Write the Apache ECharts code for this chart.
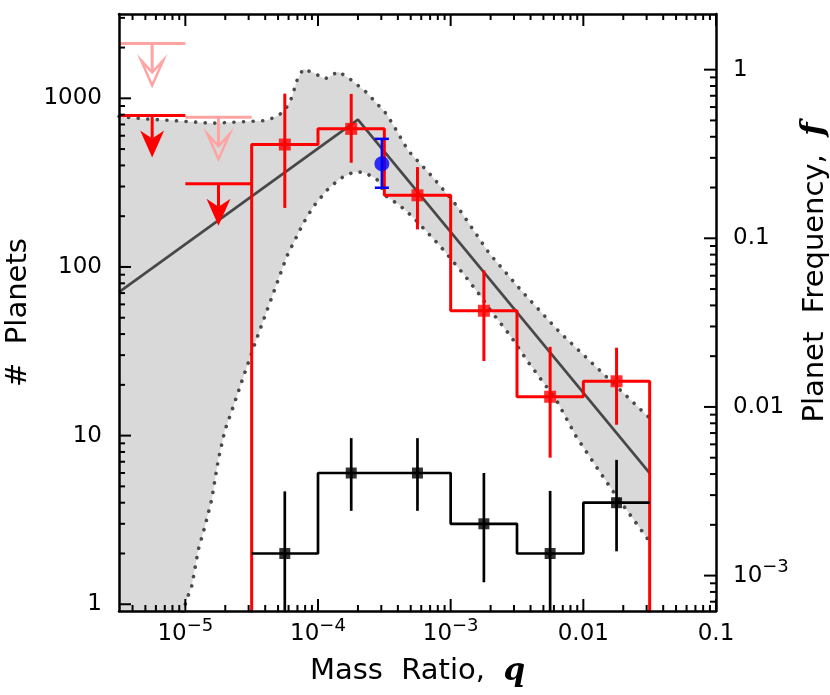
<!DOCTYPE html>
<html>
<head>
<meta charset="utf-8">
<script src="https://cdn.jsdelivr.net/npm/echarts@6/dist/echarts.min.js"></script>
<style>
  html, body { margin: 0; padding: 0; background: #fff; }
  #main { width: 830px; height: 695px; }
</style>
</head>
<body>
<div id="main"></div>
<script>
// half-decade bins in mass ratio q
var binEdges = [3.162e-5, 1e-4, 3.162e-4, 1e-3, 3.162e-3, 1e-2, 3.162e-2];
var binCenters = [5.62e-5, 1.78e-4, 5.62e-4, 1.78e-3, 5.62e-3, 1.78e-2];

// red: planets corrected for detection efficiency
var redCounts = [532, 659, 266, 55, 17, 21];
var redErrLo = [224, 415, 167, 27.7, 7.4, 11.6];
var redErrHi = [1066, 1062, 391, 95.5, 33.6, 33.2];

// black: observed planets
var blackCounts = [2, 6, 6, 3, 2, 4];
var blackErrLo = [0.5, 3.58, 3.58, 1.35, 0.5, 2.06];
var blackErrHi = [4.67, 9.66, 9.66, 6.0, 4.7, 7.18];

// upper limits in the two lowest bins
var limitBinLo = [3.162e-6, 1e-5];
var limitBinHi = [1e-5, 3.162e-5];
var redLimits = [791, 311];
var pinkLimits = [2115, 773];

// blue point
var blueQ = [3.03e-4];
var blueN = [409];
var blueLo = [295];
var blueHi = [575];

// broken power-law model
var modelQ = [3.162e-6, 2.0e-4, 3.162e-2];
var modelN = [71, 748, 6.0];

// shaded 1-sigma band
var upperQ = [3.162e-6, 4.98e-6, 8.08e-6, 1.59e-5, 3.18e-5, 4.12e-5, 4.99e-5, 5.63e-5, 6.35e-5, 6.93e-5,
  7.73e-5, 9.46e-5, 1.125e-4, 1.26e-4, 1.42e-4, 1.74e-4, 2.32e-4, 3.28e-4, 3.91e-4, 4.77e-4,
  7.33e-4, 1.13e-3, 1.96e-3, 3.48e-3, 6.6e-3, 1.32e-2, 3.162e-2];
var upperN = [780, 755, 738, 711, 731, 738, 790, 846, 1014, 1273,
  1493, 1406, 1303, 1362, 1444, 1303, 1085, 809, 644, 491,
  341, 227, 120, 71.1, 41.2, 24.5, 12.7];
var lowerQ = [3.162e-6, 9.4e-6, 1.025e-5, 1.117e-5, 1.253e-5, 1.406e-5, 1.58e-5, 1.77e-5, 1.99e-5, 2.30e-5,
  2.66e-5, 3.35e-5, 4.22e-5, 5.80e-5, 7.73e-5, 9.19e-5, 1.16e-4, 1.46e-4, 1.84e-4, 2.19e-4,
  2.76e-4, 3.28e-4, 4.13e-4, 5.18e-4, 8.26e-4, 9.55e-4, 1.27e-3, 1.70e-3, 2.08e-3, 2.86e-3,
  3.82e-3, 6.25e-3, 8.84e-3, 1.25e-2, 1.71e-2, 2.50e-2, 3.162e-2];
var lowerN = [0.5, 0.85, 1.07, 1.28, 2.11, 2.90, 4.17, 7.18, 10.8, 14.9,
  20.9, 35.2, 58.0, 115, 181, 227, 284, 334, 365, 365,
  334, 262, 232, 198, 134, 117, 89.3, 66.4, 52.9, 38.5,
  27.4, 16.3, 9.86, 6.55, 4.56, 3.03, 2.35];

// tick labels
var xTickValues = [1e-5, 1e-4, 1e-3, 0.01, 0.1];
var xTickLabels = ['10^−5', '10^−4', '10^−3', '0.01', '0.1'];
var yTickValues = [1, 10, 100, 1000];
var yTickLabels = ['1', '10', '100', '1000'];
var fTickValues = [1e-3, 0.01, 0.1, 1];
var fTickLabels = ['10^−3', '0.01', '0.1', '1'];

// axes work in log10 space
var X_MIN = -5.5, X_MAX = -1;
var Y_MIN = -0.04, Y_MAX = 3.5;
var LOG_C = -3.17;   // log10(f / N)
var FONT = 'DejaVu Sans';
var RED = '#ff0000', PINK = '#ffa3a3';

var lg = Math.log10;
function pairs(xs, ys) {
  return xs.map(function (x, i) { return [lg(x), lg(ys[i])]; });
}

function richLabel(s) {
  var p = s.split('^');
  return p.length > 1 ? '{b|' + p[0] + '}{s|' + p[1] + '}' : '{b|' + s + '}';
}
function labelFor(values, labels) {
  return function (v) {
    for (var i = 0; i < values.length; i++) {
      if (Math.abs(lg(values[i]) - v) < 1e-6) return richLabel(labels[i]);
    }
    return '';
  };
}
var labelRich = {
  b: { fontSize: 23, fontFamily: FONT, color: '#000', lineHeight: 34 },
  s: { fontSize: 18, fontFamily: FONT, color: '#000', lineHeight: 18, padding: [0, 0, 16, 0] }
};

// minor/major tick positions, k * 10^n
function logTicks(dLo, dHi, lo, hi) {
  var out = [];
  for (var n = dLo; n <= dHi; n++) {
    for (var k = 1; k <= 9; k++) {
      var v = lg(k) + n;
      if (v >= lo - 1e-9 && v <= hi + 1e-9) out.push([v, k === 1 ? 12 : 6]);
    }
  }
  return out;
}
var xTicks = logTicks(-6, -1, X_MIN, X_MAX);
var yTicks = logTicks(0, 3, Y_MIN, Y_MAX);
var fTicks = logTicks(-4, 0, Y_MIN + LOG_C, 0);

// histogram outlines
var redStep = [[lg(binEdges[0]), lg(0.5)]];
var blackStep = [];
for (var i = 0; i < redCounts.length; i++) {
  redStep.push([lg(binEdges[i]), lg(redCounts[i])], [lg(binEdges[i + 1]), lg(redCounts[i])]);
  blackStep.push([lg(binEdges[i]), lg(blackCounts[i])], [lg(binEdges[i + 1]), lg(blackCounts[i])]);
}
redStep.push([lg(binEdges[binEdges.length - 1]), lg(0.5)]);

function errData(xs, lo, hi) {
  return xs.map(function (x, i) { return [lg(x), lg(lo[i]), lg(hi[i])]; });
}
function errRenderer(color, width, cap) {
  return function (params, api) {
    var a = api.coord([api.value(0), api.value(1)]);
    var b = api.coord([api.value(0), api.value(2)]);
    var st = { stroke: color, lineWidth: width };
    var ch = [{ type: 'line', shape: { x1: a[0], y1: a[1], x2: b[0], y2: b[1] }, style: st }];
    if (cap) {
      ch.push({ type: 'line', shape: { x1: a[0] - cap, y1: a[1], x2: a[0] + cap, y2: a[1] }, style: st });
      ch.push({ type: 'line', shape: { x1: b[0] - cap, y1: b[1], x2: b[0] + cap, y2: b[1] }, style: st });
    }
    return { type: 'group', children: ch };
  };
}

function limitData(vals) {
  return vals.map(function (v, i) { return [lg(limitBinLo[i]), lg(limitBinHi[i]), lg(v)]; });
}
function limitRenderer(color, filled) {
  return function (params, api) {
    var y = api.value(2);
    var a = api.coord([api.value(0), y]);
    var b = api.coord([api.value(1), y]);
    var c = api.coord([(api.value(0) + api.value(1)) / 2, y]);
    var tip = c[1] + 42;
    var wingY = filled ? tip - 27 : tip - 25;
    var notchY = filled ? tip - 19 : tip - 13;
    var half = filled ? 12 : 11;
    var st = { stroke: color, lineWidth: 3 };
    return {
      type: 'group',
      children: [
        { type: 'line', shape: { x1: a[0], y1: a[1], x2: b[0], y2: b[1] }, style: st },
        { type: 'line', shape: { x1: c[0], y1: c[1], x2: c[0], y2: notchY }, style: st },
        {
          type: 'polygon',
          shape: { points: [[c[0], tip], [c[0] - half, wingY], [c[0], notchY], [c[0] + half, wingY]] },
          style: filled ? { fill: color } : { fill: 'none', stroke: color, lineWidth: 2.5 }
        }
      ]
    };
  };
}

var tickStyle = { stroke: '#000', lineWidth: 2 };
var dotStyle = { color: '#4a4a4a', width: 3.6, type: [0.1, 9.5], cap: 'round' };

var axisLineStyle = { onZero: false, lineStyle: { color: '#000', width: 2.5 } };
var nameStyle = {
  fontSize: 29, fontFamily: FONT, color: '#000',
  rich: {
    it: { fontSize: 31, fontFamily: 'DejaVu Serif', fontStyle: 'italic', fontWeight: 'bold', color: '#000' }
  }
};

var myChart = echarts.init(document.getElementById('main'));
var option = {
  animation: false,
  backgroundColor: '#fff',
  grid: { left: 119, right: 114, top: 14, bottom: 84, containLabel: false, outerBoundsMode: 'none' },
  xAxis: [
    {
      type: 'value', min: X_MIN, max: X_MAX, interval: 0.5, position: 'bottom', z: 10,
      axisLine: axisLineStyle, axisTick: { show: false }, splitLine: { show: false },
      axisLabel: { formatter: labelFor(xTickValues, xTickLabels), margin: 6, rich: labelRich },
      name: 'Mass  Ratio,  {it|q}', nameLocation: 'middle', nameGap: 45,
      nameTextStyle: nameStyle
    },
    {
      type: 'value', min: X_MIN, max: X_MAX, position: 'top', z: 10,
      axisLine: axisLineStyle, axisTick: { show: false }, splitLine: { show: false },
      axisLabel: { show: false }
    }
  ],
  yAxis: [
    {
      type: 'value', min: Y_MIN, max: Y_MAX, interval: 0.02, position: 'left', z: 10,
      axisLine: axisLineStyle, axisTick: { show: false }, splitLine: { show: false },
      axisLabel: { formatter: labelFor(yTickValues, yTickLabels), margin: 17, rich: labelRich },
      name: '#  Planets', nameLocation: 'middle', nameGap: 80, nameRotate: 90,
      nameTextStyle: nameStyle
    },
    {
      type: 'value', min: Y_MIN + LOG_C, max: Y_MAX + LOG_C, interval: 0.01, position: 'right', z: 10,
      axisLine: axisLineStyle, axisTick: { show: false }, splitLine: { show: false },
      axisLabel: { formatter: labelFor(fTickValues, fTickLabels), margin: 17, rich: labelRich },
      name: 'Planet  Frequency,  {it|f}', nameLocation: 'middle', nameGap: 70, nameRotate: 90,
      nameTextStyle: Object.assign({}, nameStyle, { padding: [0, 0, 0, 80] })
    }
  ],
  series: [
    {
      // shaded band
      type: 'custom', z: 1, clip: true,
      data: [[0, 0]],
      renderItem: function (params, api) {
        var pts = pairs(upperQ, upperN).concat(pairs(lowerQ, lowerN).reverse())
          .map(function (p) { return api.coord(p); });
        return { type: 'polygon', shape: { points: pts }, style: { fill: '#d9d9d9' } };
      }
    },
    { type: 'line', z: 2, symbol: 'none', data: pairs(upperQ, upperN), lineStyle: dotStyle },
    { type: 'line', z: 2, symbol: 'none', data: pairs(lowerQ, lowerN), lineStyle: dotStyle },
    {
      type: 'line', z: 3, symbol: 'none', data: pairs(modelQ, modelN),
      lineStyle: { color: '#484848', width: 2.7 }
    },
    {
      type: 'line', z: 4, symbol: 'none', data: redStep,
      lineStyle: { color: RED, width: 3 }
    },
    {
      type: 'line', z: 4, symbol: 'none', data: blackStep,
      lineStyle: { color: '#000', width: 2.7 }
    },
    {
      type: 'custom', z: 5, clip: true, data: errData(binCenters, redErrLo, redErrHi),
      renderItem: errRenderer(RED, 3, 0)
    },
    {
      type: 'custom', z: 5, clip: true, data: errData(binCenters, blackErrLo, blackErrHi),
      renderItem: errRenderer('#000', 2.7, 0)
    },
    {
      type: 'scatter', z: 6, symbol: 'rect', symbolSize: 12, data: pairs(binCenters, redCounts),
      itemStyle: { color: RED }
    },
    {
      type: 'scatter', z: 6, symbol: 'rect', symbolSize: 11, data: pairs(binCenters, blackCounts),
      itemStyle: { color: '#000' }
    },
    {
      type: 'custom', z: 7, data: errData(blueQ, blueLo, blueHi),
      renderItem: errRenderer('#0000ff', 2.5, 7)
    },
    {
      type: 'scatter', z: 7, symbol: 'circle', symbolSize: 15, data: pairs(blueQ, blueN),
      itemStyle: { color: '#0000ff' }
    },
    {
      type: 'custom', z: 6, data: limitData(pinkLimits), renderItem: limitRenderer(PINK, false)
    },
    {
      type: 'custom', z: 6, data: limitData(redLimits), renderItem: limitRenderer(RED, true)
    },
    {
      // x ticks, bottom and top, pointing inwards
      type: 'custom', z: 9, clip: false, data: xTicks,
      renderItem: function (params, api) {
        var v = api.value(0), len = api.value(1);
        var b = api.coord([v, Y_MIN]), t = api.coord([v, Y_MAX]);
        return {
          type: 'group', children: [
            { type: 'line', shape: { x1: b[0], y1: b[1], x2: b[0], y2: b[1] - len }, style: tickStyle },
            { type: 'line', shape: { x1: t[0], y1: t[1], x2: t[0], y2: t[1] + len }, style: tickStyle }
          ]
        };
      }
    },
    {
      type: 'custom', z: 9, clip: false, data: yTicks,
      renderItem: function (params, api) {
        var p = api.coord([X_MIN, api.value(0)]);
        return { type: 'line', shape: { x1: p[0], y1: p[1], x2: p[0] + api.value(1), y2: p[1] }, style: tickStyle };
      }
    },
    {
      type: 'custom', z: 9, clip: false, yAxisIndex: 1, data: fTicks,
      renderItem: function (params, api) {
        var p = api.coord([X_MAX, api.value(0)]);
        return { type: 'line', shape: { x1: p[0], y1: p[1], x2: p[0] - api.value(1), y2: p[1] }, style: tickStyle };
      }
    }
  ]
};
myChart.setOption(option);
</script>
</body>
</html>
